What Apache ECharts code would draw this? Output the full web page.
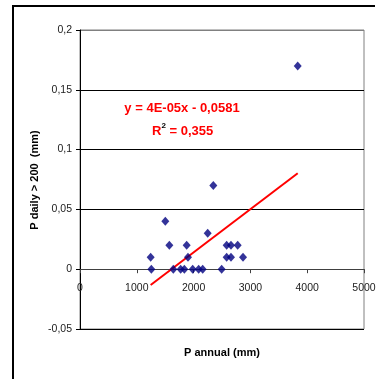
<!DOCTYPE html>
<html><head><meta charset="utf-8">
<script src="https://cdn.jsdelivr.net/npm/echarts@6/dist/echarts.min.js"></script>
<style>html,body{margin:0;padding:0;background:#fff}#c{width:380px;height:379px}</style>
</head><body><div id="c"></div>
<script>
const pAnnual = [1244,1256,1502,1573,1643,1772,1837,1878,1901,1984,2089,2160,2248,2347,2494,2582,2582,2658,2658,2776,2870,3833];
const pDaily  = [0.01,0,0.04,0.02,0,0,0,0.02,0.01,0,0,0,0.03,0.07,0,0.02,0.01,0.02,0.01,0.02,0.01,0.17];
const trendSlope = 0.0000361;
const trendIntercept = -0.0581;
const equationText = 'y = 4E-05x - 0,0581';
const r2Text = '0,355';
const xTicks = [0,1000,2000,3000,4000,5000];
const yTicks = [-0.05,0,0.05,0.1,0.15,0.2];

const pts = pAnnual.map((x,i)=>[x,pDaily[i]]);
const xMin = Math.min(...pAnnual), xMax = Math.max(...pAnnual);
const trend = [[xMin, trendSlope*xMin+trendIntercept],[xMax, trendSlope*xMax+trendIntercept]];
const fmt = v => String(Math.round(v*100)/100).replace('.',',');
const font = 'Liberation Sans, Arial, sans-serif';
const yMin = yTicks[0], yMax = yTicks[yTicks.length-1];
// label grid: same plot width, its bottom edge is the y=0 line of the main grid
const plotTop = 30, plotH = 299;
const zeroBottom = 379 - (plotTop + plotH * (yMax - 0) / (yMax - yMin));

const chart = echarts.init(document.getElementById('c'), null, {renderer:'canvas'});
chart.setOption({
  animation:false,
  backgroundColor:'#fff',
  grid:[
    {left:80, top:plotTop, right:16, bottom:379-plotTop-plotH, show:true, borderColor:'#808080', borderWidth:1, containLabel:false, outerBoundsMode:'none'},
    {left:80, top:plotTop, right:16, bottom:zeroBottom, show:false, containLabel:false, outerBoundsMode:'none'}
  ],
  xAxis:[
    {type:'value', gridIndex:0, min:xTicks[0], max:xTicks[xTicks.length-1], interval:1000,
    axisLine:{onZero:true, lineStyle:{color:'#404040', width:1}},
    axisTick:{show:true, length:4, lineStyle:{color:'#404040'}},
    axisLabel:{show:false},
    splitLine:{show:false}},
    {type:'value', gridIndex:1, min:xTicks[0], max:xTicks[xTicks.length-1], interval:1000,
    axisLine:{show:false}, axisTick:{show:false}, splitLine:{show:false},
    axisLabel:{margin:13, fontFamily:font, fontSize:10.5, color:'#222', formatter:v=>String(v)}}
  ],
  yAxis:[
    {type:'value', gridIndex:0, min:yMin, max:yMax, interval:0.05,
    axisLine:{show:true, lineStyle:{color:'#000', width:1}},
    axisTick:{show:true, length:4, lineStyle:{color:'#000'}},
    axisLabel:{margin:8, fontFamily:font, fontSize:10.5, color:'#222', formatter:fmt},
    splitLine:{show:true, lineStyle:{color:['#000','#404040','#000','#000','#000','#808080'], width:1}}},
    {type:'value', gridIndex:1, min:0, max:yMax, show:false}
  ],
  series:[
    {type:'line', data:trend, showSymbol:false, symbol:'none', lineStyle:{color:'#ff0000', width:2}, z:3},
    {type:'scatter', data:pts, symbol:'diamond', symbolSize:[8,9], itemStyle:{color:'#000080'}, z:4}
  ],
  graphic:[
    {type:'polyline', shape:{points:[[13,379],[13,6],[375,6]]}, style:{stroke:'#000', lineWidth:2, fill:null}},
    {type:'text', x:222, y:353, style:{text:'P annual (mm)', font:'bold 11px '+font, fill:'#000', align:'center', verticalAlign:'middle'}},
    {type:'text', x:35, y:180, rotation:Math.PI/2, style:{text:'P daily > 200  (mm)', font:'bold 11px '+font, fill:'#000', align:'center', verticalAlign:'middle'}},
    {type:'text', x:182, y:108, style:{text:equationText, font:'bold 13px '+font, fill:'#ff0000', align:'center', verticalAlign:'middle'}},
    {type:'text', left:152, top:122, style:{text:'{a|R}{s|2}{a| = '+r2Text+'}', rich:{a:{font:'bold 13px '+font, fill:'#ff0000', color:'#ff0000', verticalAlign:'bottom', lineHeight:16}, s:{font:'bold 8px '+font, color:'#ff0000', verticalAlign:'top', lineHeight:16, padding:[0,0,8,0]}}}}
  ]
});
</script></body></html>
